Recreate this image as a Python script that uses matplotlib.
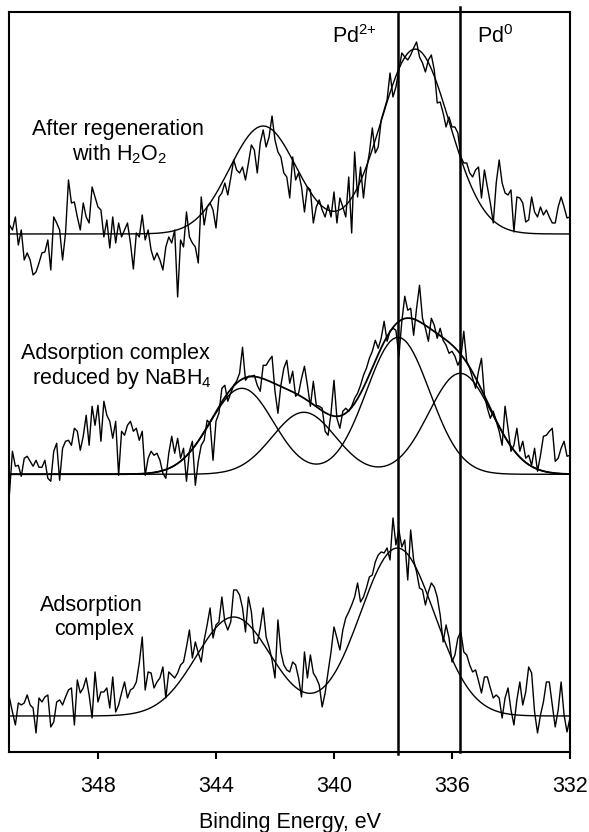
import matplotlib.pyplot as plt
import numpy as np

plt.rcParams["font.family"] = "Liberation Sans"
plt.rcParams["mathtext.default"] = "regular"
plt.rcParams["font.size"] = 15.5

# binding energy grid, 0.1 eV step
energy = np.round(np.arange(351.0, 331.95, -0.1), 1)

# Pd 3d counts (arb. units, baseline subtracted)
regen = [
    9, 4, 17, -11, 4, -26, -19, -26, -41, -38,
    -29, -19, -18, -6, -36, 17, 11, 4, -26, 1,
    54, 31, 32, 17, 4, 31, 17, 11, 47, 37,
    27, 24, -3, 14, -14, 17, -9, 11, -3, 4,
    11, -9, -35, 1, -3, 19, -6, 4, -16, -26,
    -19, -26, -36, -13, -3, -9, 4, -63, -6, -13,
    22, -3, -9, -13, -29,
    37, 9, 27, 31, 24, 6, 37, 41, 51, 39,
    56, 74, 64, 61, 67, 54, 71, 89, 84, 61,
    91, 104, 87, 97, 118, 94, 82, 77, 61, 57,
    36, 77, 54, 61, 47, 22, 47, 44, 11, 27,
    34, 24, 17, 29, 17, 42, 11, 36, 27, 17,
    57, 1, 82, 37, 67, 36, 64, 81, 106, 81,
    87, 114, 124,
    134, 161, 137, 147, 164, 181, 177, 174, 179, 186,
    192, 177, 171, 162, 174, 179, 164, 131, 132, 121,
    107, 117, 107, 107, 101, 77, 71, 71, 61, 57,
    64, 67, 36, 64, 47, 31, 11, 51, 74, 51,
    41, 39, 44, 2, 37, 36, 31, 12, 14, 37,
    22, 17, 27, 19, 24, 17, 11, 11, 27, 37,
    27, 16, 17,
]

reduced = [
    -19, 23, 8, 9, -2, 16, 18, 13, 8, 14,
    7, 7, 14, -4, -7, 23, 31, -6, 26, 33,
    34, 29, 46, 43, 24, 38, 59, 29, 68, 49,
    69, 33, 73, 59, 53, 36, 53, -1, 43, 39,
    49, 53, 43, 46, 34, 43, -1, 16, 23, 19,
    21, 14, 1, -4, 21, 38, 21, 36, 16, 26,
    -7, 23, 33, -11, 13,
    29, 34, 54, 51, 14, 53, 61, 86, 89, 73,
    81, 89, 93, 101, 127, 94, 98, 98, 99, 89,
    83, 109, 109, 114, 118, 83, 61, 89, 106, 114,
    91, 103, 78, 81, 96, 108, 89, 68, 93, 69,
    68, 66, 43, 39, 61, 94, 56, 46, 63, 66,
    63, 68, 76, 81, 89, 99, 106, 116, 123, 134,
    126, 136, 153,
    133, 143, 146, 144, 118, 153, 178, 164, 166, 139,
    166, 189, 156, 146, 133, 156, 149, 136, 146, 134,
    129, 121, 123, 118, 109, 116, 143, 113, 106, 96,
    86, 103, 116, 79, 66, 56, 63, 53, 43, 29,
    68, 46, 23, 29, 46, 23, 33, 16, 19, 9,
    26, 3, 19, 38, 39, 43, 46, 13, 16, 26,
    33, 18, 19,
]

adsorbed = [
    18, 4, -9, 13, 11, 13, 21, 11, 8, -17,
    18, 14, 19, 21, -11, -6, 14, 16, 11, 19,
    26, 28, -9, 36, 23, 28, 38, 21, -2, 44,
    14, 24, 24, 28, 8, 39, 4, 11, 23, 34,
    18, 26, 28, 34, 53, 79, 26, 44, 43, 28,
    34, 38, 49, 18, 44, 41, 38, 43, 51, 54,
    69, 86, 58, 74, 63,
    54, 76, 91, 108, 78, 91, 94, 119, 94, 86,
    94, 126, 126, 121, 108, 84, 119, 104, 73, 73,
    88, 108, 79, 69, 56, 38, 96, 64, 51, 46,
    44, 54, 51, 38, 19, 64, 38, 61, 43, 38,
    31, 9, 23, 44, 64, 89, 78, 66, 86, 98,
    104, 111, 119, 133, 114, 119, 128, 139, 141, 154,
    161, 164, 163,
    168, 156, 198, 171, 186, 169, 176, 136, 186, 156,
    144, 128, 126, 111, 124, 133, 129, 119, 101, 74,
    91, 78, 54, 61, 78, 84, 64, 61, 51, 44,
    46, 35, 23, 39, 39, 28, 18, 21, 18, -2,
    18, 28, 6, -9, 16, 34, 11, 24, 49, 43,
    4, -17, 1, 14, 34, 34, 11, -11, 6, 34,
    1, -16, -2,
]

# fitted Gaussian peaks: centres (eV), heights, sigma (eV)
regen_centres = [342.4, 337.25]
regen_heights = [108, 185]
regen_sigma = [1.14, 1.155]

pd2_centres = [343.12, 337.83]
pd2_heights = [86, 137]
pd0_centres = [341.02, 335.72]
pd0_heights = [62, 101]
reduced_sigma = 1.07

ads_centres = [343.4, 337.85]
ads_heights = [99, 168]
ads_sigma = 1.26

# reference positions of Pd 3d5/2
pd2_line = 337.83
pd0_line = 335.72

# vertical stacking of the three spectra
off_ads = 0
off_red = 241.7
off_regen = 482


def gauss_sum(centres, heights, sigmas):
    if np.isscalar(sigmas):
        sigmas = [sigmas] * len(centres)
    y = np.zeros_like(energy)
    for c, h, s in zip(centres, heights, sigmas):
        y = y + h * np.exp(-(energy - c) ** 2 / (2 * s ** 2))
    return y


fig = plt.figure(figsize=(5.89, 8.32), dpi=100)
ax = fig.add_axes([0.0161, 0.0956, 0.9516, 0.8894])

lw = 1.0
ax.plot(energy, np.array(regen) + off_regen, color="k", lw=lw)
ax.plot(energy, gauss_sum(regen_centres, regen_heights, regen_sigma) + off_regen,
        color="k", lw=lw)

pd2_fit = gauss_sum(pd2_centres, pd2_heights, reduced_sigma)
pd0_fit = gauss_sum(pd0_centres, pd0_heights, reduced_sigma)
ax.plot(energy, np.array(reduced) + off_red, color="k", lw=lw)
ax.plot(energy, pd2_fit + off_red, color="k", lw=lw)
ax.plot(energy, pd0_fit + off_red, color="k", lw=lw)
ax.plot(energy, pd2_fit + pd0_fit + off_red, color="k", lw=1.3)

ax.plot(energy, np.array(adsorbed) + off_ads, color="k", lw=lw)
ax.plot(energy, gauss_sum(ads_centres, ads_heights, ads_sigma) + off_ads,
        color="k", lw=lw)

ymin, ymax = -36.5, 703.5
ax.plot([pd2_line, pd2_line], [ymin - 2, ymax], color="k", lw=1.8, clip_on=False)
ax.plot([pd0_line, pd0_line], [ymin, ymax + 5], color="k", lw=1.8, clip_on=False)

ax.text(350.25, 580.7, "After regeneration", va="baseline")
ax.text(348.87, 555.3, "with H$_2$O$_2$", va="baseline")
ax.text(350.62, 357, "Adsorption complex", va="baseline")
ax.text(350.23, 332, "reduced by NaBH$_4$", va="baseline")
ax.text(349.98, 105.3, "Adsorption", va="baseline")
ax.text(349.49, 81, "complex", va="baseline")
ax.text(340.07, 673.3, "Pd$^{2{+}}$", va="baseline")
ax.text(335.15, 673.3, "Pd$^0$", va="baseline")

ax.set_xlim(351, 332)
ax.set_ylim(ymin, ymax)
ax.set_xticks([348, 344, 340, 336, 332])
ax.set_yticks([])
ax.tick_params(axis="x", direction="out", length=4.7, width=1.5, pad=12)
for s in ax.spines.values():
    s.set_linewidth(1.5)

ax.set_xlabel("Binding Energy, eV")
ax.xaxis.set_label_coords(0.5, -0.081)

fig.savefig("out.png", dpi=100)
